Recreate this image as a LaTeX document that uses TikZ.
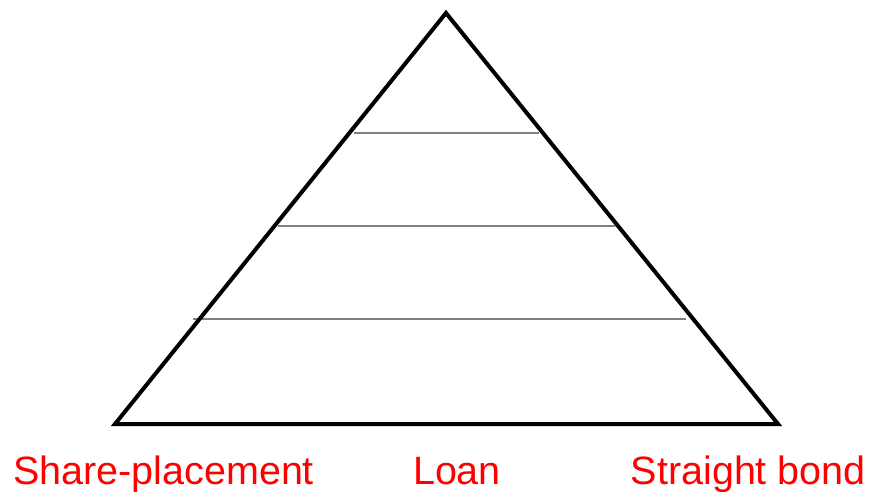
\documentclass[tikz,border=0pt]{standalone}
\usepackage{fontspec}
\setmainfont{Liberation Sans}
\begin{document}
\begin{tikzpicture}[x=1pt,y=-1pt,
  tri/.style={draw=black,line width=4pt,line join=miter},
  level/.style={draw=black!50,line width=1.4pt},
  lbl/.style={text=red,font=\fontsize{39.5}{42}\selectfont,inner sep=0pt}]
\useasboundingbox (0,0) rectangle (872,492);
\coordinate (apex) at (446,13);
\coordinate (bl) at (115,424);
\coordinate (br) at (778,424);
\draw[level] (354,133) -- (539,133);
\draw[level] (278,226) -- (615,226);
\draw[level] (193,319) -- (686,319);
\draw[tri] (apex) -- (br) -- (bl) -- cycle;
\node[lbl,anchor=base west] (sp) at (13,484) {Share-placement};
\node[lbl,anchor=base] (loan) at (457,484) {Loan};
\node[lbl,anchor=base east] (sb) at (866,484) {Straight bond};
\end{tikzpicture}
\end{document}
